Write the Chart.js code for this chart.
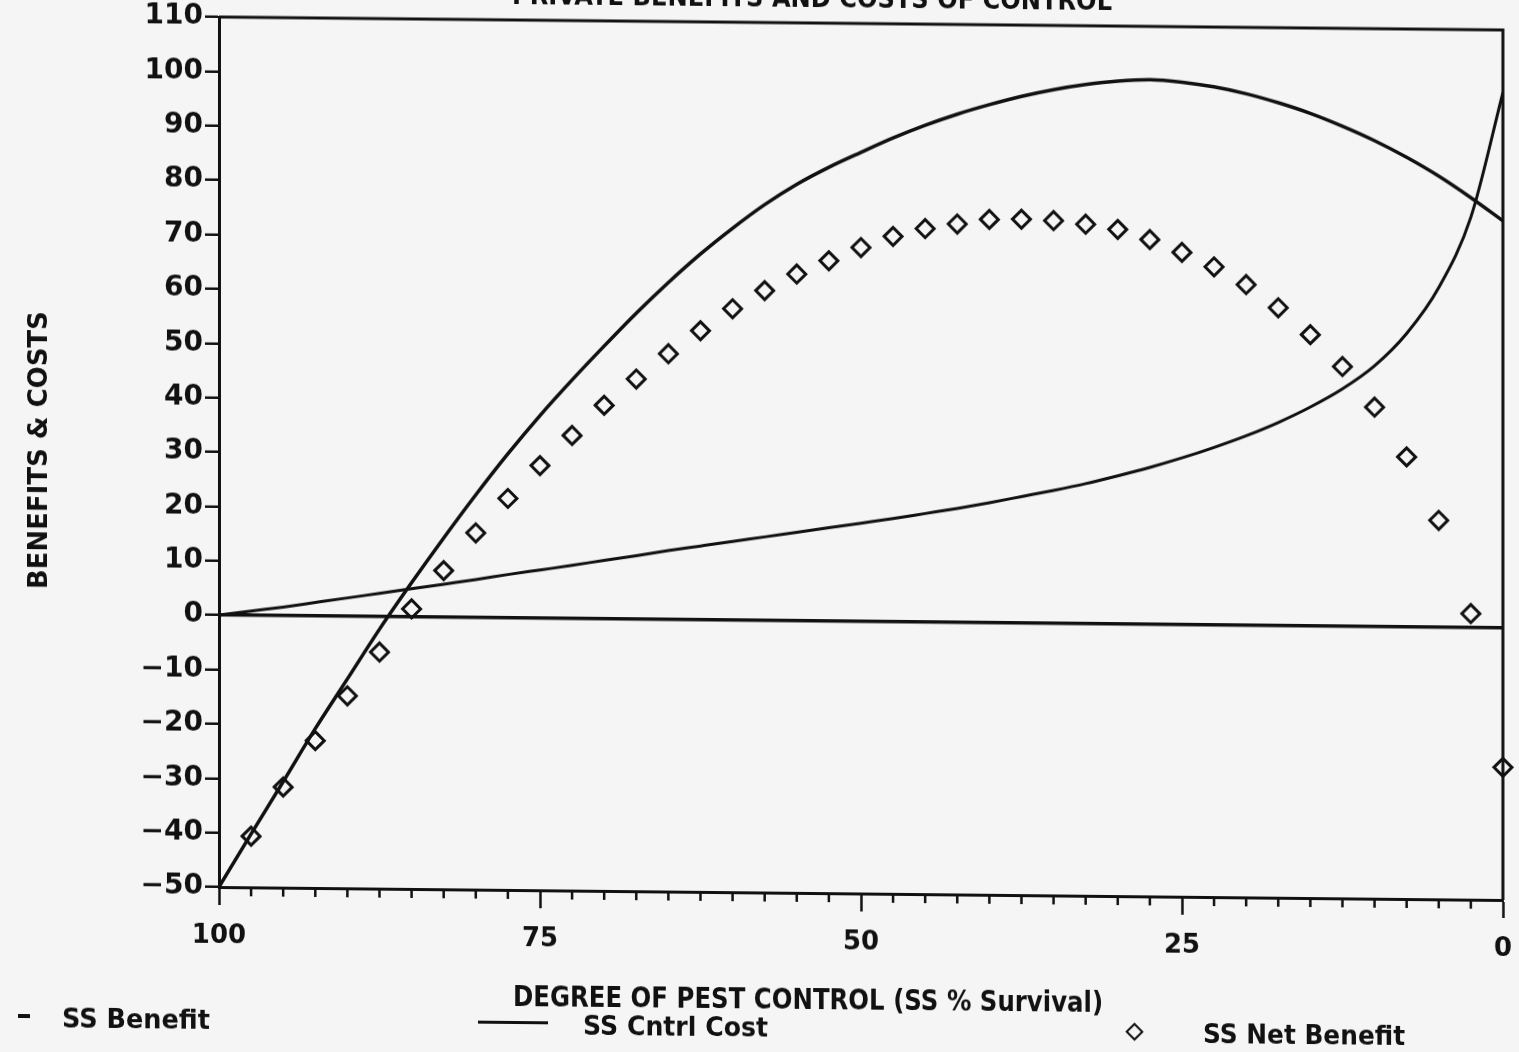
<!DOCTYPE html>
<html><head><meta charset="utf-8">
<script src="https://cdn.jsdelivr.net/npm/chart.js@4/dist/chart.umd.min.js"></script>
<style>
html,body{margin:0;padding:0;background:#f5f5f5;overflow:hidden;width:1519px;height:1052px;}
#wrap{position:absolute;left:0;top:0;width:1519px;height:1052px;transform:skewY(0.58deg);transform-origin:219px 0;}
canvas{position:absolute;left:0;top:0;}
.t{position:absolute;white-space:nowrap;font-family:"DejaVu Sans",sans-serif;font-weight:bold;color:#111;transform-origin:0 50%;line-height:1;}
.ln{position:absolute;background:#111;}
.dm{position:absolute;width:9px;height:9px;border:2.5px solid #111;transform:rotate(45deg);}
</style></head><body>
<div id="wrap">
<canvas id="c" width="1519" height="1052"></canvas>
<div class="t" data-w="600" style="left:512px;top:-21px;font-size:26px">PRIVATE BENEFITS AND COSTS OF CONTROL</div>
<div class="t" data-w="590" style="left:513px;top:979px;font-size:29px">DEGREE OF PEST CONTROL (SS % Survival)</div>
<div class="ln" style="left:18px;top:1016px;width:12px;height:4px"></div>
<div class="t" data-w="148" style="left:62px;top:1006px;font-size:27px">SS Benefit</div>
<div class="ln" style="left:478px;top:1018px;width:70px;height:2.5px"></div>
<div class="t" data-w="185" style="left:583px;top:1008px;font-size:27px">SS Cntrl Cost</div>
<div class="dm" style="left:1128px;top:1016px"></div>
<div class="t" data-w="202" style="left:1203px;top:1010px;font-size:27px">SS Net Benefit</div>
</div>
<script>
// Degree of pest control (SS % survival) for the two curves
const curveSurvival = [100,97.5,95,92.5,90,87.5,85,82.5,80,77.5,75,72.5,70,67.5,65,62.5,60,57.5,55,52.5,50,47.5,45,42.5,40,37.5,35,32.5,30,27.5,25,22.5,20,17.5,15,12.5,10,7.5,5,2.5,0];
const ssBenefit = [-50,-40.2,-30.5,-20.7,-11.5,-2.3,6.3,14.6,22.6,30.2,37.3,43.9,50.2,56.3,62.0,67.3,72.1,76.5,80.3,83.5,86.3,89.0,91.4,93.5,95.3,96.9,98.2,99.2,99.9,100.2,99.8,99.0,97.8,96.2,94.3,92.0,89.4,86.4,83.0,79.1,74.9];
const ssCntrlCost = [0,0.8,1.6,2.5,3.4,4.3,5.2,6.1,7.0,8.0,8.9,9.8,10.8,11.7,12.7,13.6,14.5,15.4,16.3,17.2,18.1,19.0,20.0,21.0,22.1,23.3,24.5,25.8,27.3,28.9,30.7,32.7,34.9,37.4,40.3,43.7,48.0,54.0,62.5,75.5,98.5];
// Net benefit markers
const netSurvival = [97.5,95,92.5,90,87.5,85,82.5,80,77.5,75,72.5,70,67.5,65,62.5,60,57.5,55,52.5,50,47.5,45,42.5,40,37.5,35,32.5,30,27.5,25,22.5,20,17.5,15,12.5,10,7.5,5,2.5,0];
const ssNetBenefit = [-40.6,-31.5,-22.9,-14.6,-6.5,1.5,8.6,15.6,22.0,28.1,33.7,39.3,44.2,48.9,53.2,57.3,60.7,63.8,66.3,68.8,70.9,72.4,73.3,74.2,74.3,74.1,73.5,72.6,70.8,68.5,65.9,62.7,58.5,53.6,47.8,40.4,31.3,19.7,2.6,-25.6];
// Axis ticks
const xMajorStep = 25;
const xMinorStep = 2.5;
const yTickStep = 10;

const ink = '#111';
const pair = (xs, ys) => xs.map((x, i) => ({x, y: ys[i]}));

const framePlugin = {
  id: 'frame',
  afterDraw(chart) {
    const {ctx, chartArea: a, scales: {x}} = chart;
    ctx.save();
    ctx.strokeStyle = ink;
    ctx.lineWidth = 3;
    ctx.beginPath();
    ctx.moveTo(a.left, a.top);
    ctx.lineTo(a.right, a.top);
    ctx.lineTo(a.right, a.bottom);
    ctx.stroke();
    ctx.lineWidth = 2.5;
    ctx.beginPath();
    for (let v = x.min; v <= x.max + 1e-9; v += xMinorStep) {
      if (Math.abs(v % xMajorStep) < 1e-9) continue;
      const px = x.getPixelForValue(v);
      ctx.moveTo(px, a.bottom);
      ctx.lineTo(px, a.bottom + 9);
    }
    ctx.stroke();
    ctx.restore();
  }
};

new Chart(document.getElementById('c'), {
  type: 'scatter',
  data: {
    datasets: [
      {label: 'SS Net Benefit', data: pair(netSurvival, ssNetBenefit), pointStyle: 'rectRot', pointRadius: 9,
       borderColor: ink, borderWidth: 3, backgroundColor: 'rgba(0,0,0,0)', showLine: false, clip: false},
      {type: 'line', label: 'SS Benefit', data: pair(curveSurvival, ssBenefit), borderColor: ink, borderWidth: 3.5,
       pointRadius: 0, cubicInterpolationMode: 'monotone', fill: false},
      {type: 'line', label: 'SS Cntrl Cost', data: pair(curveSurvival, ssCntrlCost), borderColor: ink, borderWidth: 3,
       pointRadius: 0, cubicInterpolationMode: 'monotone', fill: false}
    ]
  },
  options: {
    responsive: false, animation: false, devicePixelRatio: 1,
    layout: {padding: {top: 17, right: 16, left: 0, bottom: 0}},
    plugins: {legend: {display: false}, tooltip: {enabled: false}},
    scales: {
      x: {
        type: 'linear', reverse: true, min: 0, max: 100,
        ticks: {stepSize: xMajorStep, color: ink, padding: 16, maxRotation: 0,
                font: {family: 'DejaVu Sans', weight: 'bold', size: 26}},
        grid: {drawOnChartArea: false, tickLength: 18, tickWidth: 2.5, tickColor: ink},
        border: {color: ink, width: 3},
        afterFit(s) { s.height = 165; s.paddingLeft = 0; s.paddingRight = 0; }
      },
      y: {
        min: -50, max: 110,
        ticks: {stepSize: yTickStep, color: ink, padding: 2,
                font: {family: 'DejaVu Sans', weight: 'bold', size: 28},
                callback: v => String(v).replace('-', '\u2212')},
        grid: {color: c => (c.tick && c.tick.value === 0) ? ink : 'rgba(0,0,0,0)', lineWidth: 3.5,
               tickLength: 14, tickWidth: 2.5, tickColor: ink},
        border: {color: ink, width: 3},
        title: {display: true, text: 'BENEFITS & COSTS', color: ink, padding: {top: 25, bottom: 0},
                font: {family: 'DejaVu Sans', weight: 'bold', size: 26}},
        afterFit(s) { s.width = 219; s.paddingTop = 0; s.paddingBottom = 0; }
      }
    }
  },
  plugins: [framePlugin]
});

document.querySelectorAll('.t[data-w]').forEach(el => {
  const w = +el.dataset.w;
  const nat = el.getBoundingClientRect().width;
  if (nat > 0) el.style.transform = 'scaleX(' + (w / nat) + ')';
});
</script>
</body></html>
